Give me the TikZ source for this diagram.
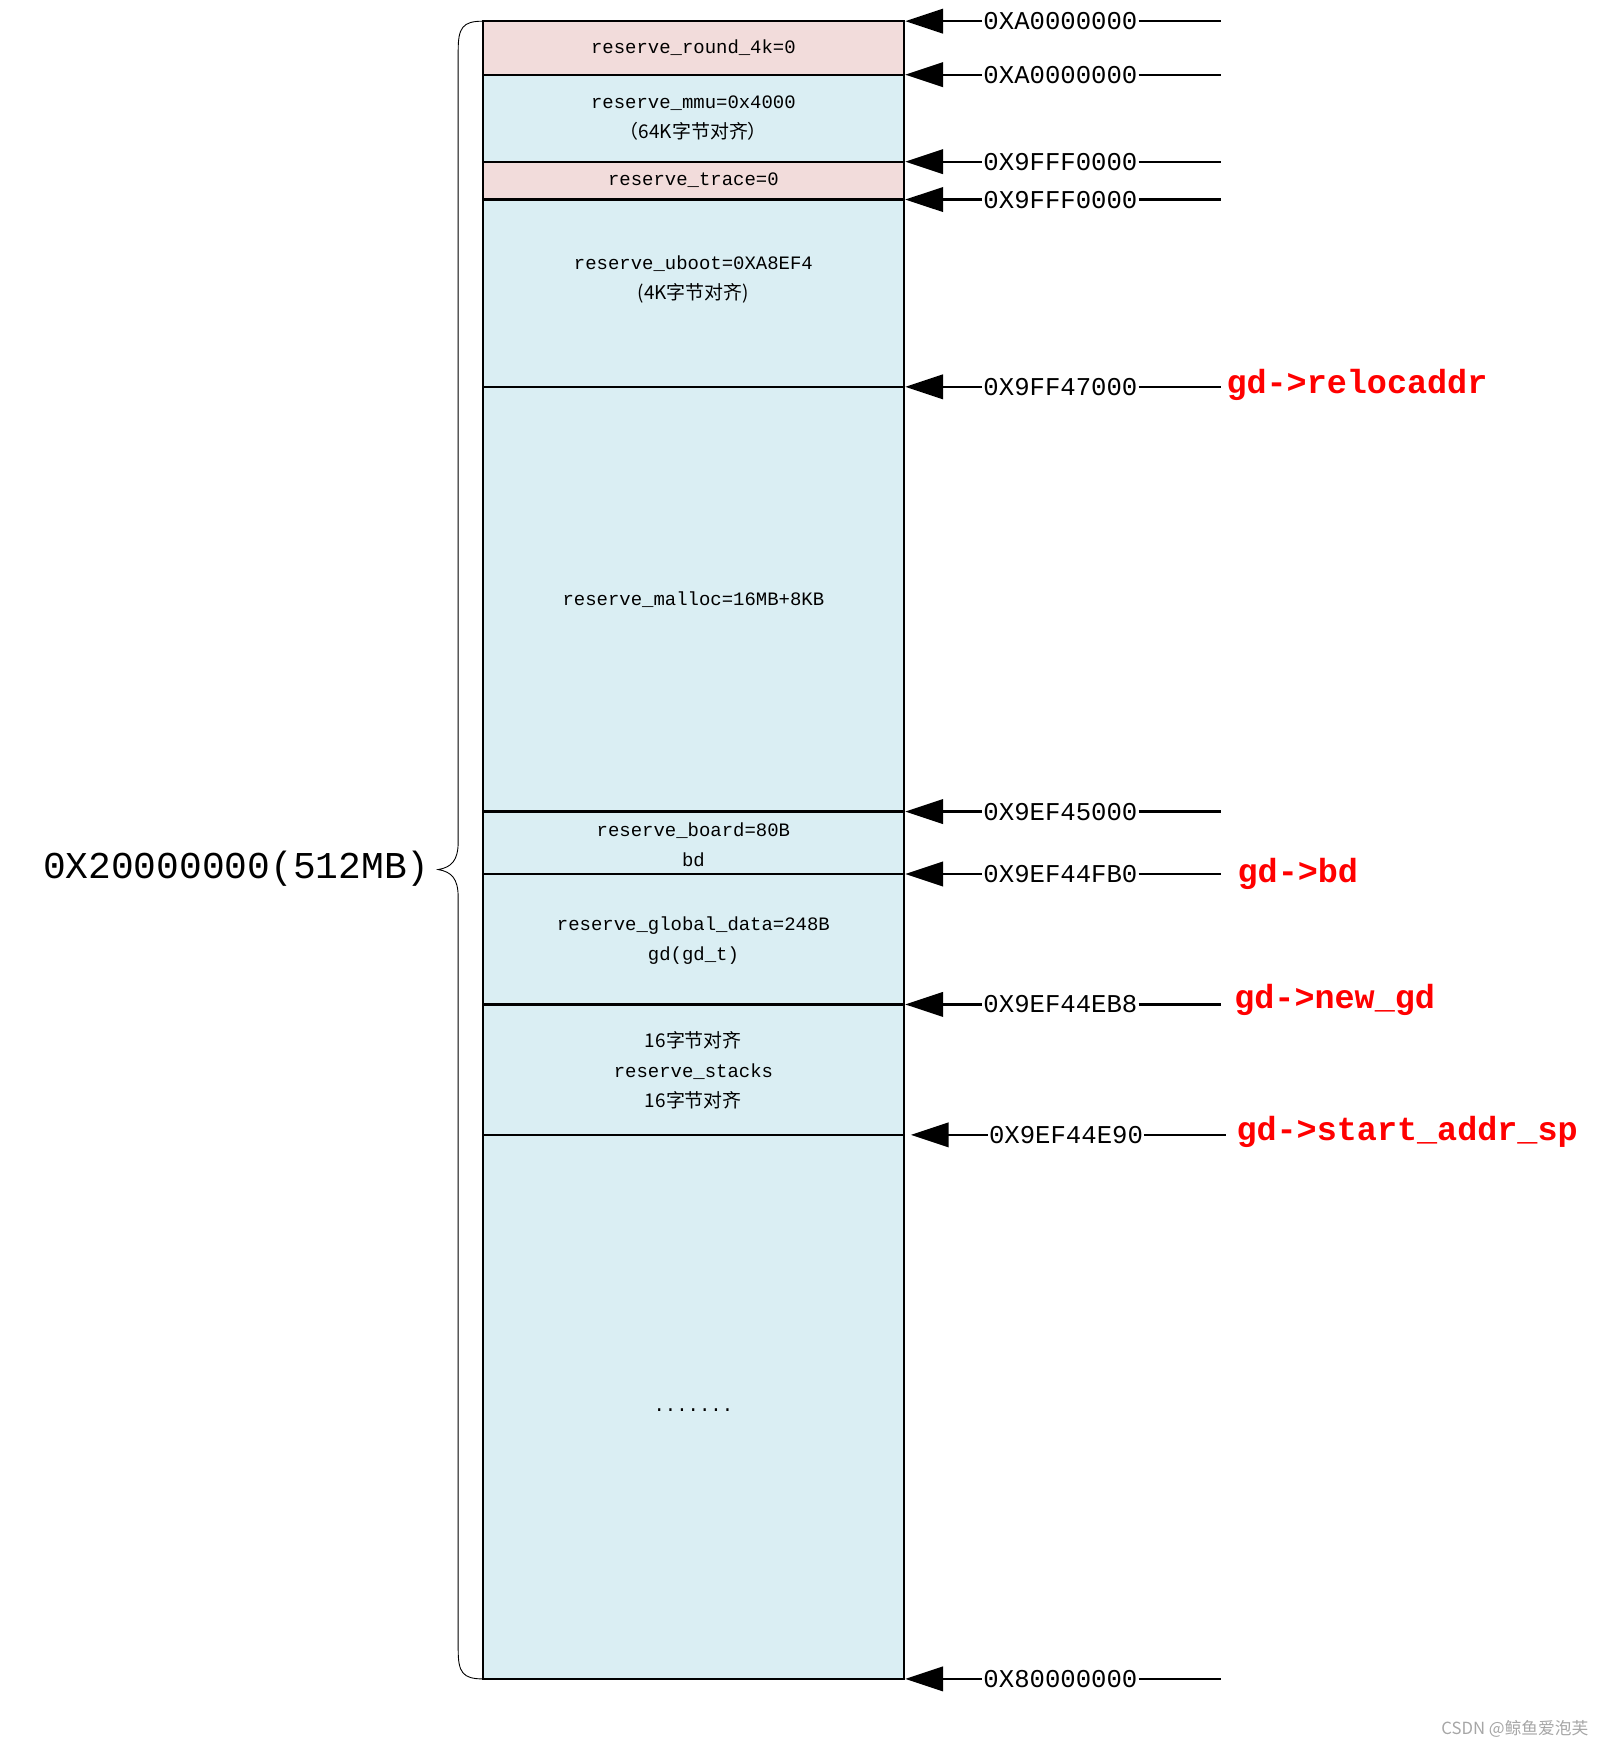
\documentclass[tikz,border=0pt]{standalone}
\usepackage{fontspec}
\setmainfont{Liberation Serif}
\setmonofont{Liberation Mono}
\newfontfamily\cjk{Noto Sans CJK SC}
\usetikzlibrary{arrows.meta,decorations.pathreplacing}
\begin{document}
\begin{tikzpicture}[x=1pt,y=-1pt,
 box/.style={draw=black,line width=2pt},
 bt/.style={font=\fontsize{17}{27}\selectfont\ttfamily,align=center,inner sep=0},
 ad/.style={font=\fontsize{23}{26}\selectfont\ttfamily,inner sep=1pt,anchor=west},
 rl/.style={font=\fontsize{30}{32}\selectfont\ttfamily\bfseries,text=red,inner sep=0,anchor=west},
 ar/.style={line width=2pt,-{Triangle[length=34pt,width=22pt]}},
 ln/.style={line width=2pt}]
\useasboundingbox (0,0) rectangle (1440,1568);
\definecolor{pk}{HTML}{F2DCDB}\definecolor{bl}{HTML}{DAEEF3}
\fill[bl] (433,19) rectangle (811,1506);
\fill[pk] (433,19) rectangle (811,67);
\fill[pk] (433,145) rectangle (811,179);
\draw[box] (433,19) rectangle (811,1506);
\foreach \y in {67,145,179,347,728,784,901,1018} \draw[ln] (433,\y) -- (811,\y);
\node[bt] (t1) at (622,43) {reserve\_round\_4k=0};
\node[bt] (t2) at (622,106) {reserve\_mmu=0x4000\\{\cjk （64K字节对齐）}};
\node[bt] (t3) at (622,162) {reserve\_trace=0};
\node[bt] (t4) at (622,251) {reserve\_uboot=0XA8EF4\\{\cjk (4K字节对齐)}};
\node[bt] (t5) at (622,538) {reserve\_malloc=16MB+8KB};
\node[bt] (t6) at (622,758) {reserve\_board=80B\\bd};
\node[bt] (t7) at (622,844) {reserve\_global\_data=248B\\gd(gd\_t)};
\node[bt] (t8) at (622,960) {{\cjk 16字节对齐}\\reserve\_stacks\\{\cjk 16字节对齐}};
\node[bt] (t9) at (622,1265) {.......};
\foreach \n/\y/\t/\o in {a/19/0XA0000000/0,b/67/0XA0000000/0,c/145/0X9FFF0000/0,d/179/0X9FFF0000/0,e/347/0X9FF47000/0,f/728/0X9EF45000/0,g/784/0X9EF44FB0/0,h/901/0X9EF44EB8/0,i/1018/0X9EF44E90/5,j/1506/0X80000000/0}{
 \node[ad] (\n) at (881+\o,\y) {\t};
 \coordinate (\n tip) at (812+\o,\y);
 \coordinate (\n end) at (1095+\o,\y);
 \draw[ar] (\n.west) -- (\n tip);
 \draw[ln] (\n.east) -- (\n end);
}
\node[rl] (r1) at (1100,345) {gd->relocaddr};
\node[rl] (r2) at (1110,784) {gd->bd};
\node[rl] (r3) at (1107,897) {gd->new\_gd};
\node[rl] (r4) at (1109,1015) {gd->start\_addr\_sp};
\draw[line width=0.8pt] (433,19) .. controls (415,19) and (411,25) .. (411,45) -- (411,755) .. controls (411,772) and (405,778) .. (393,780) .. controls (405,782) and (411,788) .. (411,805) -- (411,1480) .. controls (411,1500) and (415,1506) .. (433,1506);
\node[font=\fontsize{34}{36}\selectfont\ttfamily,inner sep=0] (big) at (212,779) {0X20000000(512MB)};
\node[font=\fontsize{15}{16}\selectfont\cjk,text=gray!70,anchor=east,inner sep=0] (wm) at (1425,1551) {CSDN @鲸鱼爱泡芙};
\end{tikzpicture}
\end{document}
